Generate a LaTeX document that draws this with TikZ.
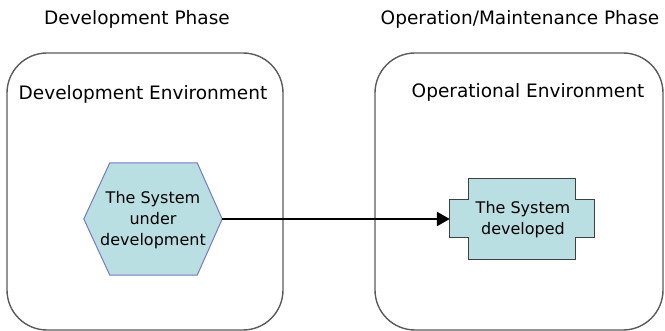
\documentclass[tikz,border=0pt]{standalone}
\usepackage{fontspec}
\setmainfont{DejaVu Sans}
\usetikzlibrary{calc,arrows.meta}
\definecolor{sysfill}{HTML}{B9DFE3}
\definecolor{hexline}{HTML}{7878C4}
\definecolor{crossline}{HTML}{404040}
\definecolor{envline}{HTML}{5A5A5A}
\tikzset{
  titletext/.style={anchor=base, inner sep=0pt, font=\fontsize{18.5}{22}\selectfont},
  envbox/.style={draw=envline, line width=1.4pt, rounded corners=40pt, inner sep=0pt},
  systext/.style={inner sep=0pt, align=center, font=\fontsize{16}{21}\selectfont},
  sysline/.style={fill=sysfill, line width=1pt, line join=miter},
  flow/.style={line width=2.7pt, -{Triangle[length=13pt,width=14pt]}}
}
\begin{document}
\begin{tikzpicture}[x=1pt,y=1pt]
\useasboundingbox (0,0) rectangle (665,-331);
% environment boxes
\node (devbox) [envbox, minimum width=276pt, minimum height=277pt] at (145,-191.5) {};
\node (opbox) [envbox, minimum width=288pt, minimum height=277pt] at (519,-191.5) {};
% titles
\node (devphase) [titletext] at (137,-25) {Development Phase};
\node (opphase) [titletext] at (520,-25) {Operation/Maintenance Phase};
\node (devenv) [titletext] at (143,-100) {Development Environment};
\node (openv) [titletext] at (528,-98) {Operational Environment};
% hexagon
\node (hex) [minimum width=138pt, minimum height=112pt, inner sep=0pt] at (153,-219) {};
\draw[sysline, draw=hexline]
  (hex.west) -- ($(hex.north west)+(26,0)$) -- ($(hex.north east)+(-25,0)$) -- (hex.east)
  -- ($(hex.south east)+(-25,0)$) -- ($(hex.south west)+(26,0)$) -- cycle;
\node (hextext) [systext] at (153,-220) {The System\\under\\development};
% cross shape
\node (cross) [minimum width=144pt, minimum height=80pt, inner sep=0pt] at (522,-219) {};
\draw[sysline, draw=crossline]
  ($(cross.west)+(0,19)$) -- ($(cross.west)+(19,19)$) -- ($(cross.north west)+(19,0)$)
  -- ($(cross.north east)+(-19,0)$) -- ($(cross.east)+(-19,19)$) -- ($(cross.east)+(0,19)$)
  -- ($(cross.east)+(0,-19)$) -- ($(cross.east)+(-19,-19)$) -- ($(cross.south east)+(-19,0)$)
  -- ($(cross.south west)+(19,0)$) -- ($(cross.west)+(19,-19)$) -- ($(cross.west)+(0,-19)$) -- cycle;
\node (crosstext) [systext] at (523,-220) {The System\\developed};
% connector
\draw[flow] (hex.east) -- (cross.west);
\end{tikzpicture}
\end{document}
